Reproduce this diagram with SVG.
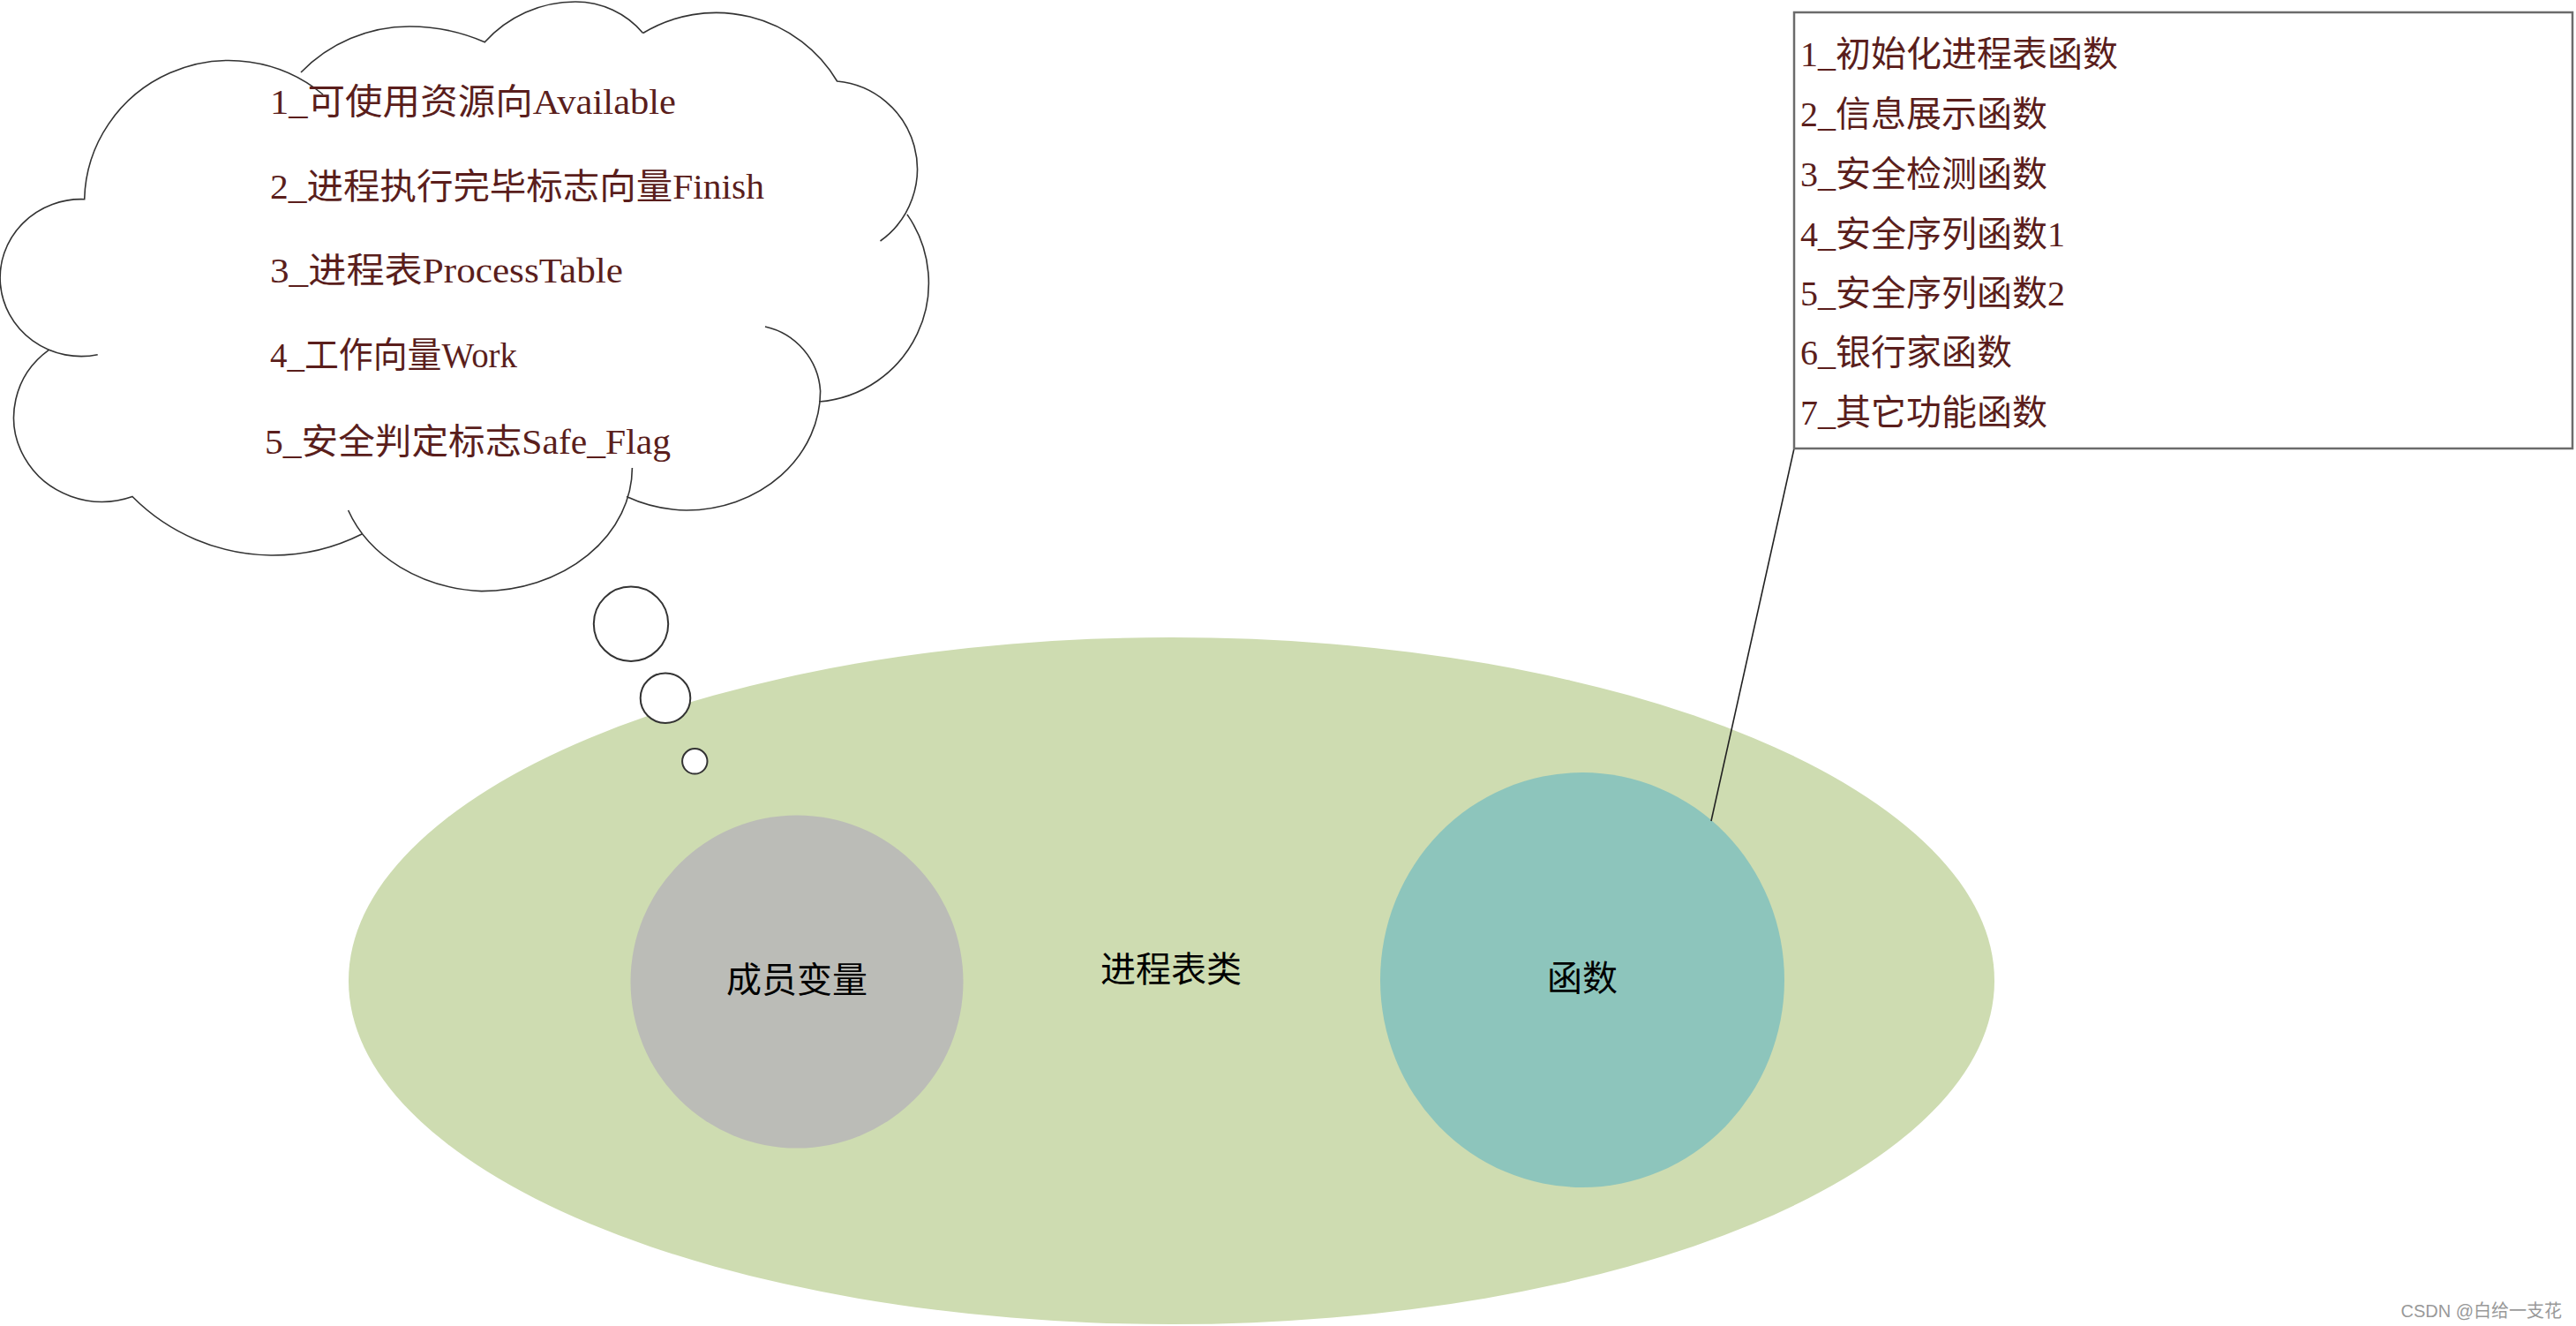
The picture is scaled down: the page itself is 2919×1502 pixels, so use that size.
<svg xmlns="http://www.w3.org/2000/svg" width="2919" height="1502" viewBox="0 0 2919 1502">
<style>
.line{fill:none;stroke:#333;stroke-width:1.6}
.bub{fill:#fff;stroke:#333;stroke-width:2}
.brown{font-family:"Liberation Serif","Noto Sans CJK SC",serif;font-size:40px;fill:#5A1E1C}
.lbl{font-family:"Noto Sans CJK SC",sans-serif;font-size:40px;fill:#000;text-anchor:middle}
.wm{font-family:"Liberation Sans","Noto Sans CJK SC",sans-serif;font-size:20px;fill:#999;text-anchor:end}
</style>
<rect width="2919" height="1502" fill="#fff"/>
<g id="class-ellipse">
<ellipse cx="1327.5" cy="1111" rx="932.5" ry="389" fill="#CEDCB1"/>
<text class="lbl" x="1327" y="1112">进程表类</text>
</g>
<g id="member-vars">
<circle cx="903" cy="1112" r="188.5" fill="#BBBCB7"/>
<text class="lbl" x="903" y="1124">成员变量</text>
</g>
<g id="functions">
<ellipse cx="1793" cy="1110" rx="229" ry="235" fill="#8DC5BC"/>
<text class="lbl" x="1793" y="1122">函数</text>
</g>
<g id="connectors">
<line x1="2033" y1="508" x2="1939" y2="930" stroke="#222" stroke-width="1.6"/>
</g>
<g id="thought-cloud">
<path class="line" d="M 110.7 401.8 A 92 89 0 1 1 95.7 225.7 A 164 161 0 0 1 366 107
M 341 82 A 171.5 171.5 0 0 1 464 30 A 214 214 0 0 1 550 48
M 549 48 A 138 138 0 0 1 652 2 A 100 100 0 0 1 728.6 37.5
M 728.6 37.5 A 160 160 0 0 1 948.6 92 A 100 100 0 0 1 997.5 273
M 1027.9 242.9 A 135 135 0 0 1 928 455
M 867 370 A 80 80 0 0 1 929.6 443 A 152 135 0 0 1 778 578 A 152 135 0 0 1 710 562.5
M 716.4 530 A 171 140 0 0 1 545.7 669.6 A 171 140 0 0 1 394.6 578
M 410 605 A 225 225 0 0 1 307 629 A 225 225 0 0 1 150 562.5 A 100 95.6 0 0 1 55.4 396.4"/>
<circle class="bub" cx="715" cy="706.7" r="42.2"/>
<circle class="bub" cx="754" cy="790.7" r="28.3"/>
<circle class="bub" cx="787.3" cy="862.3" r="14.2"/>
<text class="brown" x="306" y="128.5" textLength="460" lengthAdjust="spacingAndGlyphs">1_可使用资源向Available</text>
<text class="brown" x="306" y="225" textLength="560" lengthAdjust="spacingAndGlyphs">2_进程执行完毕标志向量Finish</text>
<text class="brown" x="306" y="320" textLength="400" lengthAdjust="spacingAndGlyphs">3_进程表ProcessTable</text>
<text class="brown" x="306" y="416" textLength="280" lengthAdjust="spacingAndGlyphs">4_工作向量Work</text>
<text class="brown" x="300" y="514" textLength="460" lengthAdjust="spacingAndGlyphs">5_安全判定标志Safe_Flag</text>
</g>
<g id="function-list">
<rect x="2033" y="14" width="882" height="494" fill="#fff" stroke="#6b6b6b" stroke-width="2.5"/>
<text class="brown" x="2040" y="75">1_初始化进程表函数</text>
<text class="brown" x="2040" y="143">2_信息展示函数</text>
<text class="brown" x="2040" y="211">3_安全检测函数</text>
<text class="brown" x="2040" y="279">4_安全序列函数1</text>
<text class="brown" x="2040" y="346">5_安全序列函数2</text>
<text class="brown" x="2040" y="413">6_银行家函数</text>
<text class="brown" x="2040" y="481">7_其它功能函数</text>
</g>
<text class="wm" x="2903" y="1492">CSDN @白给一支花</text>
</svg>
